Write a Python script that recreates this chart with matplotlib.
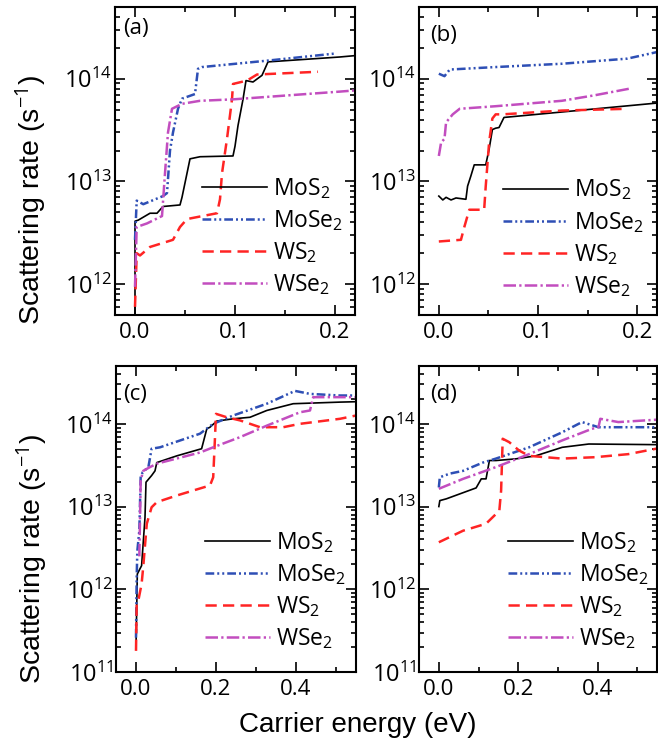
import matplotlib
matplotlib.use("Agg")
import matplotlib.pyplot as plt
from matplotlib.ticker import MultipleLocator, LogLocator, NullFormatter

plt.rcParams['font.family'] = ['Open Sans', 'DejaVu Sans']
plt.rcParams['mathtext.fontset'] = 'custom'
plt.rcParams['mathtext.rm'] = 'Open Sans'
plt.rcParams['mathtext.it'] = 'Open Sans:italic'

# ---- data (energy in eV, rate in 1/s) ----
labels = ['MoS$_2$', 'MoSe$_2$', 'WS$_2$', 'WSe$_2$']

# panel (a)
a_mos2_e = [0, 0, 0.0033, 0.015, 0.022, 0.028, 0.045, 0.047, 0.052, 0.055, 0.065, 0.098, 0.100, 0.103, 0.108, 0.111, 0.118, 0.127, 0.133, 0.205, 0.22]
a_mos2_r = [4e11, 4.1e12, 4.2e12, 4.9e12, 4.9e12, 5.7e12, 5.9e12, 7e12, 1.2e13, 1.66e13, 1.74e13, 1.77e13, 2.2e13, 3.5e13, 6.3e13, 9.6e13, 9.3e13, 1.08e14, 1.46e14, 1.63e14, 1.68e14]
a_mose2_e = [0, 0.0017, 0.0083, 0.028, 0.032, 0.035, 0.038, 0.043, 0.047, 0.060, 0.063, 0.067, 0.132, 0.20]
a_mose2_r = [2.7e12, 6.5e12, 6.0e12, 7.2e12, 7.7e12, 2.0e13, 3.0e13, 5.1e13, 6.4e13, 7.1e13, 1.25e14, 1.3e14, 1.5e14, 1.76e14]
a_ws2_e = [0, 0.0017, 0.005, 0.015, 0.038, 0.045, 0.052, 0.082, 0.085, 0.087, 0.092, 0.097, 0.098, 0.112, 0.122, 0.183]
a_ws2_r = [6e11, 2.0e12, 1.9e12, 2.3e12, 2.7e12, 3.6e12, 4.3e12, 4.9e12, 6.7e12, 1.2e13, 2.6e13, 6.3e13, 8.9e13, 9.6e13, 1.1e14, 1.17e14]
a_wse2_e = [0, 0.0017, 0.012, 0.027, 0.030, 0.033, 0.037, 0.047, 0.065, 0.098, 0.205, 0.22]
a_wse2_r = [9.4e11, 3.6e12, 3.9e12, 4.6e12, 1.2e13, 3.0e13, 5.1e13, 5.7e13, 6.1e13, 6.3e13, 7.5e13, 7.7e13]

# panel (b)
b_mos2_e = [0, 0.004, 0.0073, 0.0123, 0.0173, 0.0273, 0.029, 0.0323, 0.0357, 0.0473, 0.0507, 0.054, 0.0573, 0.0607, 0.0657, 0.22]
b_mos2_r = [7.2e12, 6.6e12, 7.0e12, 6.6e12, 6.9e12, 6.7e12, 9e12, 1.13e13, 1.45e13, 1.45e13, 2.06e13, 3.2e13, 3.3e13, 3.35e13, 4.2e13, 5.8e13]
b_mose2_e = [0, 0.0057, 0.011, 0.057, 0.124, 0.19, 0.22]
b_mose2_r = [1.12e14, 1.06e14, 1.23e14, 1.3e14, 1.4e14, 1.57e14, 1.82e14]
b_ws2_e = [0, 0.0223, 0.0257, 0.0307, 0.0457, 0.0473, 0.0507, 0.054, 0.0573, 0.064, 0.124, 0.19]
b_ws2_r = [2.6e12, 2.7e12, 3.6e12, 5.3e12, 5.3e12, 9e12, 2.4e13, 4.1e13, 4.5e13, 4.5e13, 4.9e13, 5.1e13]
b_wse2_e = [0, 0.0023, 0.0057, 0.0073, 0.014, 0.021, 0.057, 0.124, 0.157, 0.192]
b_wse2_r = [1.77e13, 2.4e13, 2.6e13, 3.76e13, 4.5e13, 5.1e13, 5.4e13, 6.1e13, 6.9e13, 8.0e13]

# panel (c)
c_mos2_e = [0, 0.0033, 0.014, 0.0225, 0.025, 0.039, 0.0475, 0.052, 0.102, 0.164, 0.177, 0.185, 0.202, 0.243, 0.285, 0.327, 0.393, 0.51, 0.55]
c_mos2_r = [2e11, 1.53e12, 1.93e12, 7.4e12, 1.97e13, 2.37e13, 2.7e13, 3.4e13, 4.1e13, 5.0e13, 8.7e13, 9.1e13, 1.08e14, 1.15e14, 1.2e14, 1.45e14, 1.75e14, 1.83e14, 1.85e14]
c_mose2_e = [0, 0.0017, 0.0033, 0.0083, 0.0117, 0.0167, 0.031, 0.039, 0.06, 0.16, 0.193, 0.243, 0.327, 0.3975, 0.435, 0.51, 0.55]
c_mose2_r = [2.6e11, 1.4e12, 2.9e12, 5.1e12, 2.26e13, 2.6e13, 3.0e13, 5.0e13, 5.2e13, 7.6e13, 1.0e14, 1.26e14, 1.75e14, 2.5e14, 2.3e14, 2.2e14, 2.2e14]
c_ws2_e = [0, 0.0017, 0.0058, 0.014, 0.018, 0.027, 0.039, 0.052, 0.102, 0.185, 0.193, 0.1975, 0.2, 0.227, 0.26, 0.31, 0.368, 0.41, 0.51, 0.55]
c_ws2_r = [1.8e11, 6.6e11, 7.3e11, 1.16e12, 1.85e12, 6.2e12, 9.8e12, 1.13e13, 1.36e13, 1.8e13, 2.26e13, 6.9e13, 1.32e14, 1.2e14, 1.1e14, 9.1e13, 9.1e13, 1.0e14, 1.15e14, 1.26e14]
c_wse2_e = [0.0083, 0.01, 0.0117, 0.018, 0.035, 0.052, 0.16, 0.193, 0.26, 0.327, 0.41, 0.435, 0.443, 0.51, 0.55]
c_wse2_r = [2.5e12, 6.8e12, 2.07e13, 2.7e13, 3.0e13, 3.3e13, 4.5e13, 5.2e13, 6.9e13, 9.5e13, 1.38e14, 1.45e14, 2.1e14, 2.1e14, 2.1e14]

# panel (d)
d_mos2_e = [0, 0.0025, 0.019, 0.094, 0.107, 0.119, 0.1275, 0.144, 0.194, 0.244, 0.311, 0.378, 0.5475, 0.55]
d_mos2_r = [1.0e13, 1.18e13, 1.24e13, 1.68e13, 2.16e13, 2.16e13, 3.6e13, 3.6e13, 3.77e13, 4.1e13, 5.2e13, 5.7e13, 5.6e13, 5.6e13]
d_mose2_e = [0, 0.0025, 0.0275, 0.061, 0.111, 0.144, 0.2275, 0.311, 0.361, 0.4025, 0.444, 0.5475, 0.55]
d_mose2_r = [1.7e13, 2.26e13, 2.5e13, 2.7e13, 3.4e13, 3.8e13, 5.2e13, 7.9e13, 1.05e14, 9.1e13, 9.1e13, 9.1e13, 9.1e13]
d_ws2_e = [0, 0.061, 0.119, 0.1525, 0.157, 0.161, 0.1775, 0.2025, 0.2275, 0.311, 0.394, 0.4775, 0.5475, 0.55]
d_ws2_r = [3.7e12, 5.1e12, 6.2e12, 8.9e12, 1.56e13, 6.6e13, 6.0e13, 4.75e13, 4.1e13, 3.8e13, 3.95e13, 4.3e13, 5.0e13, 5.0e13]
d_wse2_e = [0, 0.061, 0.144, 0.2275, 0.311, 0.386, 0.4025, 0.407, 0.4525, 0.5475, 0.55]
d_wse2_r = [1.64e13, 2.16e13, 3.0e13, 4.3e13, 6.3e13, 8.7e13, 9.1e13, 1.15e14, 1.05e14, 1.12e14, 1.12e14]

# line styles: MoS2, MoSe2, WS2, WSe2
colors = ['black', '#2e4fb5', '#ff2424', '#c24dbf']
widths = [1.2, 1.8, 1.8, 1.8]
styles = ['-', (0, (3.5, 1.2, 0.8, 1.2, 0.8, 1.2)), (0, (4.5, 2.5)), (0, (5, 1.3, 0.9, 1.3))]

fig = plt.figure(figsize=(6.58, 7.41), dpi=100)
W, H = 658.0, 741.0


def make_ax(l, r, t, b):
    return fig.add_axes([l / W, 1 - b / H, (r - l) / W, (b - t) / H])


ax_a = make_ax(115, 355, 7, 315)
ax_b = make_ax(419, 657, 7, 315)
ax_c = make_ax(116, 356, 366, 672)
ax_d = make_ax(419, 657, 366, 672)

panels = [
    (ax_a, '(a)', [(a_mos2_e, a_mos2_r), (a_mose2_e, a_mose2_r), (a_ws2_e, a_ws2_r), (a_wse2_e, a_wse2_r)],
     (-0.02, 0.22), (5e11, 5e14), 0.1, 0.05, (0.035, 0.965), (0.3625, 0.452)),
    (ax_b, '(b)', [(b_mos2_e, b_mos2_r), (b_mose2_e, b_mose2_r), (b_ws2_e, b_ws2_r), (b_wse2_e, b_wse2_r)],
     (-0.02, 0.22), (5e11, 5e14), 0.1, 0.05, (0.045, 0.94), (0.351, 0.446)),
    (ax_c, '(c)', [(c_mos2_e, c_mos2_r), (c_mose2_e, c_mose2_r), (c_ws2_e, c_ws2_r), (c_wse2_e, c_wse2_r)],
     (-0.05, 0.55), (1e11, 5e14), 0.2, 0.1, (0.03, 0.94), (0.371, 0.465)),
    (ax_d, '(d)', [(d_mos2_e, d_mos2_r), (d_mose2_e, d_mose2_r), (d_ws2_e, d_ws2_r), (d_wse2_e, d_wse2_r)],
     (-0.05, 0.55), (1e11, 5e14), 0.2, 0.1, (0.045, 0.94), (0.374, 0.465)),
]

for ax, tag, series, xl, yl, xmaj, xmin, tagpos, legpos in panels:
    for (e, r), lab, c, lw, ls in zip(series, labels, colors, widths, styles):
        ax.plot(e, r, color=c, lw=lw, linestyle=ls, label=lab)
    ax.set_yscale('log')
    ax.set_xlim(*xl)
    ax.set_ylim(*yl)
    ax.xaxis.set_major_locator(MultipleLocator(xmaj))
    ax.xaxis.set_minor_locator(MultipleLocator(xmin))
    ax.xaxis.set_major_formatter(plt.FuncFormatter(lambda v, p: '%.1f' % v))
    ax.yaxis.set_major_locator(LogLocator(base=10))
    ax.yaxis.set_minor_locator(LogLocator(base=10, subs=range(2, 10)))
    ax.yaxis.set_minor_formatter(NullFormatter())
    ax.tick_params(which='both', direction='in', top=True, right=True, width=1.2)
    ax.tick_params(which='major', length=7)
    ax.tick_params(which='minor', length=3.5)
    ax.tick_params(axis='x', labelsize=16, pad=5)
    ax.tick_params(axis='y', labelsize=17, pad=2)
    for s in ax.spines.values():
        s.set_linewidth(1.5)
    ax.text(tagpos[0], tagpos[1], tag, transform=ax.transAxes, ha='left', va='top', fontsize=16)
    ax.legend(loc='upper left', bbox_to_anchor=legpos, frameon=False, fontsize=16.5,
              borderpad=0, borderaxespad=0, handlelength=2.85, handletextpad=0.25,
              labelspacing=0.32)

for ax, ly in [(ax_a, 0.375), (ax_c, 0.37)]:
    ax.set_ylabel('Scattering rate (s$^{-1}$)', fontsize=20.5, family='Liberation Sans')
    ax.yaxis.set_label_coords(-0.28, ly)

fig.text(358 / W, 1 - 725 / H, 'Carrier energy (eV)', fontsize=20, family='Liberation Sans',
         ha='center', va='center')

fig.savefig('out.png', dpi=100)
